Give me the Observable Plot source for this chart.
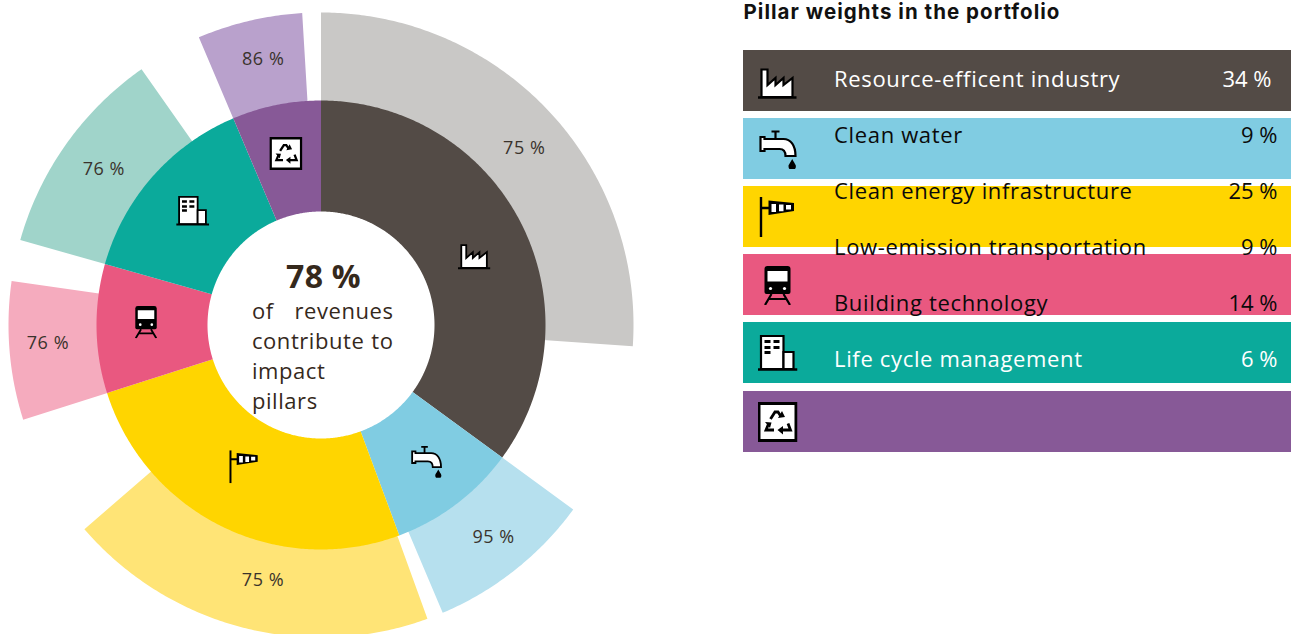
<!DOCTYPE html>
<html>
<head>
<meta charset="utf-8">
<script src="https://cdn.jsdelivr.net/npm/d3@7"></script>
<script src="https://cdn.jsdelivr.net/npm/@observablehq/plot@0.6"></script>
<style>
html,body{margin:0;padding:0;background:#fff}svg{display:block}
.spaced text{letter-spacing:.66px}
.center text{letter-spacing:.55px}
.small text{letter-spacing:.55px}
.big text{letter-spacing:.3px}
.title text{letter-spacing:1.03px}
</style>
</head>
<body>
<div id="chart"></div>
<script>
// ---------- data ----------
const pillars = ["Resource-efficent industry","Clean water","Clean energy infrastructure","Low-emission transportation","Building technology","Life cycle management"];
const weights = [34, 9, 25, 9, 14, 6];
const ringWeights = [34, 9, 25, 9, 13.8, 6.2];
const revenueShares = [75, 95, 75, 76, 76, 86];
const outerFractions = [74.4, 92.5, 74.5, 77, 76.5, 85];
const outerStartShift = [0, 0, 0.5, 0, 0, 0];
const ringColors = ["#534b46","#80cce2","#ffd500","#e95880","#0baa9b","#875997"];
const outerColors = ["#c9c8c6","#b6e0ee","#ffe476","#f5abbe","#a0d4ca","#b9a1cc"];
const labelColors = ["#ffffff","#0a0a0a","#0a0a0a","#0a0a0a","#0a0a0a","#ffffff"];
const iconNames = ["factory","tap","windsock","train","building","recycle"];
const centerValue = "78 %";
const centerWords = [["of","revenues"],["contribute","to"],["impact"],["pillars"]];
const legendTitle = "Pillar weights in the portfolio";

// ---------- icons ----------
const S = 'stroke="#000" stroke-width="2.2" stroke-linejoin="miter"';
const iconBody = {
  factory: `<path d="M4 36V8.5H10V24L18 17V24L26 17V24L35 17V36Z" fill="#fff" ${S}/><path d="M0 36.5H39" stroke="#000" stroke-width="2.4"/>`,
  tap: `<path d="M18 3.5V10M14 2.5H22" stroke="#000" stroke-width="2.2" fill="none"/><path d="M3 8H7V10H26C33 10 38 16 38 27H28C28 22 26 20 22 20H7V22H3Z" fill="#fff" ${S}/><path d="M34.7 30C32.4 34.5 31 35.6 31 37.2A3.7 3.7 0 0 0 38.4 37.2C38.4 35.6 37 34.5 34.7 30Z" fill="#000"/>`,
  windsock: `<path d="M3.5 0V40M3.5 11H12" stroke="#000" stroke-width="2.4" fill="none"/><path d="M11 3.5L36.5 6V14L11 18Z" fill="#000"/><path d="M14 7H18.5V15H14ZM21.5 7.5H26V14.2H21.5ZM28.5 8H33.5V12.5H28.5Z" fill="#fff"/>`,
  train: `<path d="M7 4Q7 1 10 1H30Q33 1 33 4V27Q33 29 31 29H9Q7 29 7 27Z" fill="#000"/><path d="M10 6H30V16.5H10Z" fill="#fff"/><circle cx="13" cy="23.5" r="1.6" fill="#fff"/><circle cx="27" cy="23.5" r="1.6" fill="#fff"/><path d="M14 29L7.5 40M26 29L32.5 40M11 34H29" stroke="#000" stroke-width="2.2" fill="none"/>`,
  building: `<path d="M3.5 3H26V36H3.5Z" fill="#fff" ${S}/><path d="M26 19H36V36H26Z" fill="#fff" ${S}/><path d="M7 7H13V10H7ZM16 7H22V10H16ZM7 13H13V16H7ZM16 13H22V16H16ZM7 18H13V21H7Z" fill="#000"/><path d="M0 36.5H40" stroke="#000" stroke-width="2.4"/>`,
  recycle: `<path d="M1.5 1.5H38.5V38.5H1.5Z" fill="#fff" stroke="#000" stroke-width="3"/><path d="M13 17L17.5 10H20.5L23.5 14.5M11 22L8.5 28H16.5M30.5 21.5L33 28H25" stroke="#000" stroke-width="2.8" fill="none"/><path d="M20.5 16L27.5 15L24.5 9ZM7.5 20L14 20.5L12.5 26ZM25.5 24V32.5L20 28Z" fill="#000"/>`
};
const iconSrc = name => "data:image/svg+xml;utf8," + encodeURIComponent(
  `<svg xmlns="http://www.w3.org/2000/svg" viewBox="0 0 40 40" width="80" height="80">${iconBody[name]}</svg>`);

// ---------- geometry derived from the data ----------
const cx = 320.5, cy = 324.5, rHole = 113.5, rRing = 224.5, rOuter = 312.5;
const total = d3.sum(ringWeights);
const deg = v => v / total * 360;
const polar = (r, a) => {
  const t = a * Math.PI / 180;
  return {x: cx + r * Math.sin(t), y: cy - r * Math.cos(t)};
};
const sector = (r0, r1, a0, a1, color, id) => {
  const n = Math.max(2, Math.ceil((a1 - a0) * 2));
  const pts = [];
  for (let i = 0; i <= n; i++) pts.push(polar(r1, a0 + (a1 - a0) * i / n));
  for (let i = n; i >= 0; i--) pts.push(polar(r0, a0 + (a1 - a0) * i / n));
  return pts.map(p => ({...p, color, id}));
};
let running = 0;
const slices = pillars.map((name, i) => {
  const a0 = running, span = deg(ringWeights[i]);
  running += span;
  return {name, i, a0, span, a1: a0 + span, outerStart: a0 + outerStartShift[i], outerSpan: span * outerFractions[i] / 100};
});
const outerPts = slices.flatMap(s => sector(rRing - 2, rOuter, s.outerStart, s.outerStart + s.outerSpan, outerColors[s.i], "o" + s.i));
const ringPts = slices.flatMap(s => sector(rHole, rRing, s.a0, s.a1, ringColors[s.i], "r" + s.i));
const labelNudge = [[6,8],[5,1],[8,-7],[-4,-4],[3,1],[4,-3]];
const iconNudge = [[1,7],[2,0],[-2,-12],[-4,-6],[0,-1],[-1,-4]];
const nudged = (p, n) => ({x: p.x + n[0], y: p.y + n[1]});
const shareLabels = slices.map(s => ({...nudged(polar(270, s.a0 + s.outerSpan / 2), labelNudge[s.i]), text: revenueShares[s.i] + " %"}));
const ringIcons = slices.map(s => ({...nudged(polar(171, s.a0 + s.span / 2), iconNudge[s.i]), src: iconSrc(iconNames[s.i])}));

// table rows
const rowTop = 50, rowStep = 68.2, rowH = 61, rowL = 743, rowR = 1291;
const textTop = 79, textStep = 56;
const rows = pillars.map((name, i) => {
  const y1 = Math.floor(rowTop + i * rowStep);
  return {
    name, i, y1, y2: y1 + rowH, yc: y1 + rowH / 2,
    yt: textTop + i * textStep,
    pct: weights[i] + " %",
    fill: ringColors[i], ink: labelColors[i],
    src: iconSrc(iconNames[i]),
    xr: i === 0 ? 1271 : 1277
  };
});

// centre words
const centerLeft = 251.5, centerRight = 393, centerFirst = 311, centerStep = 30;
const centerText = centerWords.flatMap((line, i) => line.map((word, j) => ({
  word, y: centerFirst + i * centerStep, x: j === 0 ? centerLeft : centerRight, anchor: j === 0 ? "start" : "end"
})));

const FONT = "'Open Sans', sans-serif";
const chart = Plot.plot({
  width: 1293, height: 634,
  margin: 0,
  x: {domain: [0, 1293], range: [0, 1293], axis: null},
  y: {domain: [0, 634], range: [0, 634], axis: null},
  color: {type: "identity"},
  style: {background: "#fff", fontFamily: FONT},
  marks: [
    Plot.line(outerPts, {x: "x", y: "y", z: "id", fill: "color", stroke: "none"}),
    Plot.line(ringPts, {x: "x", y: "y", z: "id", fill: "color", stroke: "none"}),
    Plot.text(shareLabels, {x: "x", y: "y", text: "text", fontSize: 18, fill: "#3a332c", fontFamily: FONT, className: "small"}),
    Plot.image(ringIcons, {x: "x", y: "y", src: "src", width: 33, height: 33}),
    Plot.text([centerValue], {x: () => 323, y: () => 277.5, text: d => d, fontSize: 32, fontWeight: 700, fill: "#35291c", fontFamily: FONT, className: "big"}),
    Plot.text(centerText.filter(d => d.anchor === "start"), {x: "x", y: "y", text: "word", textAnchor: "start", fontSize: 22, fill: "#35291c", fontFamily: FONT, className: "center"}),
    Plot.text(centerText.filter(d => d.anchor === "end"), {x: "x", y: "y", text: "word", textAnchor: "end", fontSize: 22, fill: "#35291c", fontFamily: FONT, className: "center"}),
    Plot.text([legendTitle], {x: () => rowL, y: () => 11.5, text: d => d, textAnchor: "start", fontSize: 20.5, fontWeight: 700, fill: "#111", fontFamily: "Inter, sans-serif", className: "title"}),
    Plot.rect(rows, {x1: () => rowL, x2: () => rowR, y1: "y1", y2: "y2", fill: "fill"}),
    Plot.image(rows, {x: () => rowL + 34, y: "yc", src: "src", width: 40, height: 40}),
    Plot.text(rows, {x: () => 833.5, y: "yt", text: "name", textAnchor: "start", fontSize: 22, fill: "ink", fontFamily: FONT, className: "spaced"}),
    Plot.text(rows, {x: "xr", y: "yt", text: "pct", textAnchor: "end", fontSize: 22, fill: "ink", fontFamily: FONT})
  ]
});
document.getElementById("chart").appendChild(chart);
</script>
</body>
</html>
